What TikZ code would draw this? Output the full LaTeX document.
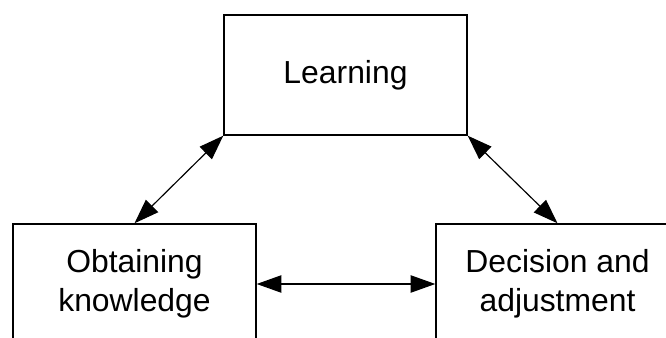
\documentclass[tikz,border=0pt]{standalone}
\usepackage{fontspec}
\setmainfont{Liberation Sans}
\usepackage{tikz}
\usetikzlibrary{arrows.meta}
\tikzset{
  stagebox/.style={draw,line width=1.2pt,minimum width=7.29cm,minimum height=3.6cm,
    align=center,inner sep=0pt,font=\fontsize{27.2}{33}\selectfont},
  link/.style={line width=1pt,{Triangle[length=0.74cm,width=0.52cm]}-{Triangle[length=0.74cm,width=0.52cm]}}
}

\begin{document}
\begin{tikzpicture}
\useasboundingbox (0,0) rectangle (19.98,10.14);
\clip (0,0) rectangle (19.98,10.14);
\node[stagebox] (learn) at (10.365,7.89) {Learning};
\node[stagebox] (obtain) at (4.035,1.62) {Obtaining\\knowledge};
\node[stagebox] (decide) at (16.725,1.62) {Decision and\\adjustment};
\draw[link] (learn.south west) -- (obtain.north);
\draw[link] (learn.south east) -- (decide.north);
\draw[link] (obtain.east) -- (decide.west);
\end{tikzpicture}
\end{document}
